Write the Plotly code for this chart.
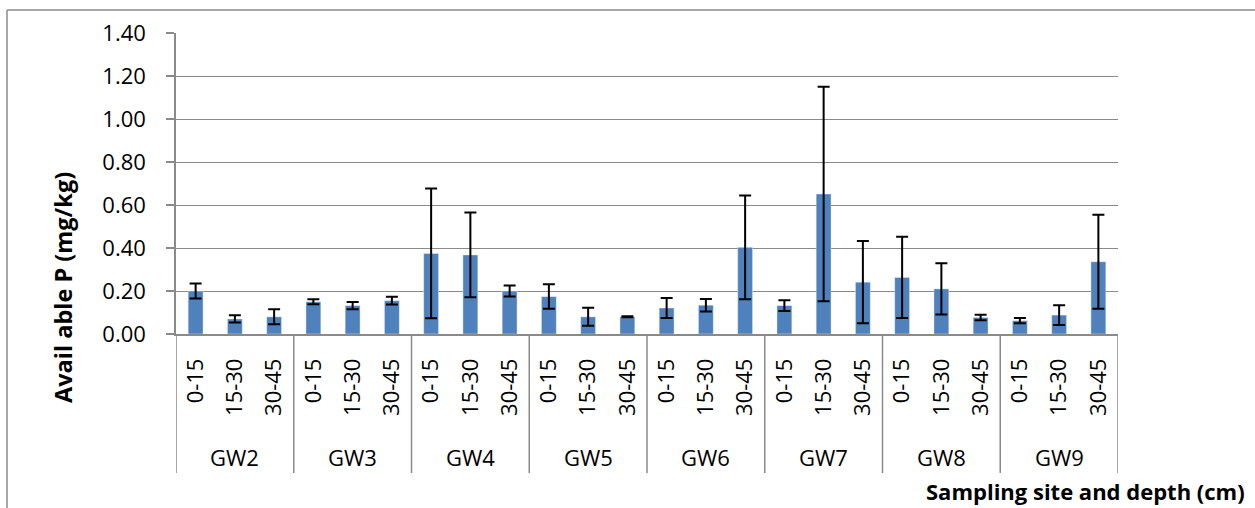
import plotly.graph_objects as go

# Sampling sites and depth classes (cm)
sites = ["GW2", "GW3", "GW4", "GW5", "GW6", "GW7", "GW8", "GW9"]
depths = ["0-15", "15-30", "30-45"]

# Mean available P (mg/kg), three depths per site
avail_p = [
    0.200, 0.070, 0.080,   # GW2
    0.150, 0.132, 0.155,   # GW3
    0.375, 0.368, 0.200,   # GW4
    0.174, 0.080, 0.080,   # GW5
    0.121, 0.134, 0.403,   # GW6
    0.132, 0.651, 0.241,   # GW7
    0.263, 0.210, 0.077,   # GW8
    0.062, 0.088, 0.336,   # GW9
]

# Standard deviations used for the error bars
avail_p_sd = [
    0.035, 0.017, 0.035,
    0.012, 0.017, 0.018,
    0.302, 0.197, 0.026,
    0.057, 0.042, 0.002,
    0.046, 0.029, 0.241,
    0.025, 0.499, 0.191,
    0.189, 0.119, 0.013,
    0.012, 0.046, 0.219,
]

y_ticks = [0.0, 0.2, 0.4, 0.6, 0.8, 1.0, 1.2, 1.4]

FONT = "Open Sans"
GRID = "#8a8a8a"

n_depth = len(depths)
xpos = list(range(len(sites) * n_depth))
tick_text = depths * len(sites)

fig = go.Figure(
    go.Bar(
        x=xpos,
        y=avail_p,
        marker=dict(color="#4f81bd", line=dict(color="rgba(255,255,255,0.5)", width=0.8)),
        error_y=dict(type="data", array=avail_p_sd, visible=True,
                     color="black", thickness=2, width=6),
        showlegend=False,
    )
)

W, H = 1255, 508
ml, mr, mt, mb = 176, 137, 33, 174
plot_h = H - mt - mb
plot_w = W - ml - mr

fig.update_layout(
    width=W, height=H,
    margin=dict(l=ml, r=mr, t=mt, b=mb, pad=0),
    paper_bgcolor="white", plot_bgcolor="white",
    bargap=0.62,
    font=dict(family=FONT, size=22, color="black"),
)

fig.update_xaxes(
    range=[-0.5, len(xpos) - 0.5],
    tickmode="array", tickvals=xpos, ticktext=tick_text,
    tickangle=-90, ticks="", ticklabelstandoff=14,
    tickfont=dict(family=FONT, size=22),
    showgrid=False, zeroline=False,
    showline=True, linecolor=GRID, linewidth=1.5,
)

fig.update_yaxes(
    range=[0, 1.4],
    tickmode="array", tickvals=y_ticks, tickformat=".2f",
    ticks="outside", ticklen=8, tickcolor=GRID, tickwidth=1.5,
    ticklabelstandoff=16,
    tickfont=dict(family=FONT, size=22),
    showgrid=True, gridcolor=GRID, gridwidth=1.3,
    zeroline=False,
    showline=True, linecolor=GRID, linewidth=1.5,
)

# Site labels and vertical dividers below the depth labels
div_bottom = -(473 - (H - mb)) / plot_h
shapes = []
for i, site in enumerate(sites):
    center = i * n_depth + (n_depth - 1) / 2
    fig.add_annotation(
        x=center, xref="x", y=0, yref="paper",
        yshift=-(457 - (H - mb)), yanchor="middle", xanchor="center",
        text=site, showarrow=False, font=dict(family=FONT, size=22),
    )
for k in range(len(sites) + 1):
    xb = k * n_depth - 0.5
    shapes.append(dict(type="line", xref="x", yref="paper",
                       x0=xb, x1=xb, y0=0, y1=div_bottom,
                       line=dict(color=GRID, width=1.5)))

# Outer chart frame (top and left edges)
frame_left = (7 - ml) / plot_w
frame_top = ((H - mb) - 10) / plot_h
shapes.append(dict(type="line", xref="paper", yref="paper",
                   x0=frame_left, x1=1.3, y0=frame_top, y1=frame_top,
                   line=dict(color=GRID, width=1.5)))
shapes.append(dict(type="line", xref="paper", yref="paper",
                   x0=frame_left, x1=frame_left, y0=frame_top, y1=-1,
                   line=dict(color=GRID, width=1.5)))
fig.update_layout(shapes=shapes)

# Axis titles
fig.add_annotation(
    x=(63 - ml) / plot_w, xref="paper",
    y=((H - mb) - 288) / plot_h, yref="paper",
    text="<b>Avail able P (mg/kg)</b>", textangle=-90, showarrow=False,
    xanchor="center", yanchor="middle", font=dict(family=FONT, size=23.5),
)
fig.add_annotation(
    x=(1247 - ml) / plot_w, xref="paper",
    y=((H - mb) - 491) / plot_h, yref="paper",
    text="<b>Sampling site and depth (cm)</b>", showarrow=False,
    xanchor="right", yanchor="middle", font=dict(family=FONT, size=22),
)

fig.write_html("out.html")
